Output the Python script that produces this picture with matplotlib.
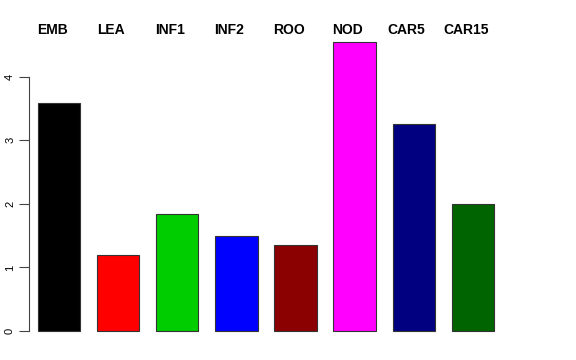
import matplotlib
matplotlib.use("Agg")
import matplotlib.pyplot as plt

categories = ["EMB", "LEA", "INF1", "INF2", "ROO", "NOD", "CAR5", "CAR15"]
values = [3.59, 1.20, 1.84, 1.50, 1.35, 4.54, 3.26, 2.00]
colors = ["#000000", "#FF0000", "#00CD00", "#0000FF", "#8B0000", "#FF00FF", "#000080", "#006400"]
yticks = [0, 1, 2, 3, 4]

plt.rcParams['font.family'] = ['Liberation Sans', 'DejaVu Sans']

W, H = 576, 360
fig = plt.figure(figsize=(W / 100, H / 100), dpi=100)

# plot region in pixels
left_px, right_px = 29, 512
top_px, bot_px = 31, 342.5
ax = fig.add_axes([left_px / W, 1 - bot_px / H, (right_px - left_px) / W, (bot_px - top_px) / H])

space = 0.4
xs = [space + 0.5 + (1 + space) * i for i in range(len(values))]
ax.bar(xs, values, width=1.0, color=colors, edgecolor="#333333", linewidth=0.8)

ppu = 59.1 / 1.4
ax.set_xlim(space - (38 - left_px) / ppu, space + (right_px - 38) / ppu)
ax.set_ylim(-0.18, 4.72)

for s in ["top", "right", "bottom"]:
    ax.spines[s].set_visible(False)
ax.spines["left"].set_bounds(0, 4)
ax.spines["left"].set_color("#444444")
ax.set_xticks([])
ax.set_yticks(yticks)
ax.set_yticklabels([str(t) for t in yticks], rotation=90, va="center", fontsize=8)
ax.tick_params(axis="y", length=7, width=0.8, color="#444444", pad=3)

for x, name in zip(xs, categories):
    xp = ax.transData.transform((x, 0))[0] - 7
    fig.text(xp / W, 1 - 29.5 / H, name, ha="center", va="center", fontsize=10, fontweight="bold")

fig.savefig("out.png", dpi=100)
